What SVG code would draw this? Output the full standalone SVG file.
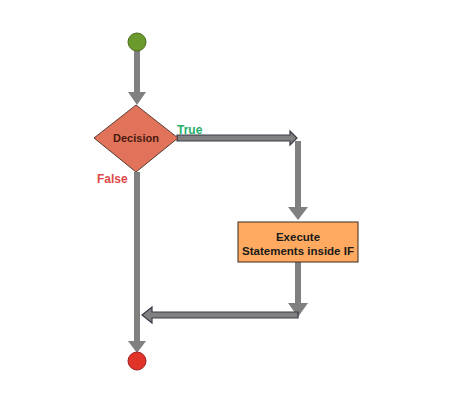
<svg xmlns="http://www.w3.org/2000/svg" width="462" height="417" viewBox="0 0 462 417">
<style>
.shaft{stroke:#808080;stroke-width:6;fill:none}
.head{fill:#808080;stroke:none}
.block{fill:#808080;stroke:#3a3a48;stroke-width:1.2;stroke-linejoin:miter}
.lbl{font-family:"Liberation Sans",Arial,sans-serif;font-weight:bold}
</style>
<rect width="462" height="417" fill="#ffffff"/>
<g id="connectors">
<line class="shaft" x1="137" y1="50" x2="137" y2="93"/>
<polygon class="head" points="128,92 146,92 137,105"/>
<polygon class="block" points="177,135 290,135 290,131 297,138 290,145 290,141 177,141"/>
<line class="shaft" x1="298" y1="141" x2="298" y2="208"/>
<polygon class="head" points="288,207 308,207 298,220"/>
<line class="shaft" x1="298" y1="262" x2="298" y2="304"/>
<polygon class="head" points="288,303 308,303 298,317"/>
<polygon class="block" points="298,312 152,312 152,307 142,315 152,323 152,318 298,318"/>
<line class="shaft" x1="137" y1="172" x2="137" y2="342"/>
<polygon class="head" points="128,341 146,341 137,353"/>
</g>
<g id="start">
<circle cx="137" cy="42" r="9" fill="#6a9a2c" stroke="#4a6a1c" stroke-width="1"/>
</g>
<g id="decision">
<polygon points="136,105 178,138 136,172 94,138" fill="#e0735a" stroke="#5a3a30" stroke-width="1"/>
<text class="lbl" x="136" y="142" font-size="11" fill="#4a1a10" text-anchor="middle">Decision</text>
</g>
<text class="lbl" x="177" y="134" font-size="12" fill="#1faf6a">True</text>
<text class="lbl" x="97" y="183" font-size="12" fill="#e04848">False</text>
<g id="execute">
<rect x="238" y="222" width="120" height="40" fill="#ffaa60" stroke="#3a2a20" stroke-width="1"/>
<text class="lbl" x="298" y="241" font-size="11.5" fill="#1a1a1a" text-anchor="middle">Execute</text>
<text class="lbl" x="298" y="255" font-size="11.5" fill="#1a1a1a" text-anchor="middle">Statements inside IF</text>
</g>
<g id="end">
<circle cx="137" cy="361" r="9" fill="#e03428" stroke="#a02020" stroke-width="1"/>
</g>
</svg>
